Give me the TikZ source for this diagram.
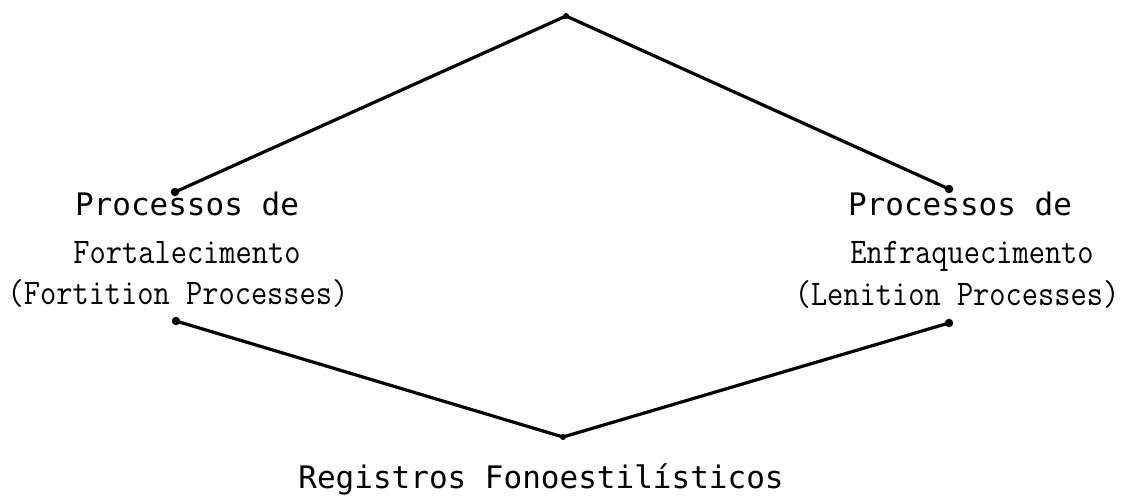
\documentclass[tikz,border=0pt]{standalone}
\usepackage{fontspec}
\usepackage{graphicx}
\newfontfamily\sansmono{DejaVu Sans Mono}
\tikzset{
  link/.style={line width=3.2pt, line cap=round},
  headtext/.style={inner sep=0pt, anchor=base, font=\sansmono\fontsize{31}{36}\selectfont},
  subtext/.style={inner sep=0pt, anchor=base, font=\ttfamily\fontsize{36}{40}\selectfont},
  enddot/.style={circle, fill=black, inner sep=0pt, minimum size=8.5pt}
}
\newcommand{\narrow}[1]{\scalebox{0.875}[1]{#1}}
\begin{document}
\begin{tikzpicture}[x=1pt,y=-1pt]
\useasboundingbox (0,0) rectangle (1131,496);
\clip (0,0) rectangle (1131,496);
% vertices
\node[enddot, minimum size=6pt] (top) at (566,16) {};
\node[enddot] (lu) at (175,192) {};
\node[enddot] (ru) at (949,189) {};
\node[enddot] (ll) at (176,321) {};
\node[enddot] (rl) at (949,323) {};
\node[enddot, minimum size=6pt] (bot) at (563,437) {};
% connectors
\draw[link] (top.center) -- (lu.center);
\draw[link] (top.center) -- (ru.center);
\draw[link] (ll.center) -- (bot.center);
\draw[link] (rl.center) -- (bot.center);
% left labels
\node[headtext] (lhead) at (187,215) {Processos de};
\node[subtext] (lsub) at (187,263) {\narrow{Fortalecimento}};
\node[subtext] (leng) at (178,304) {\narrow{(Fortition Processes)}};
% right labels
\node[headtext] (rhead) at (960,215) {Processos de};
\node[subtext] (rsub) at (972,263) {\narrow{Enfraquecimento}};
\node[subtext] (reng) at (957,305) {\narrow{(Lenition Processes)}};
% bottom label
\node[headtext] (bhead) at (541,488) {Registros Fonoestilísticos};
\end{tikzpicture}
\end{document}
